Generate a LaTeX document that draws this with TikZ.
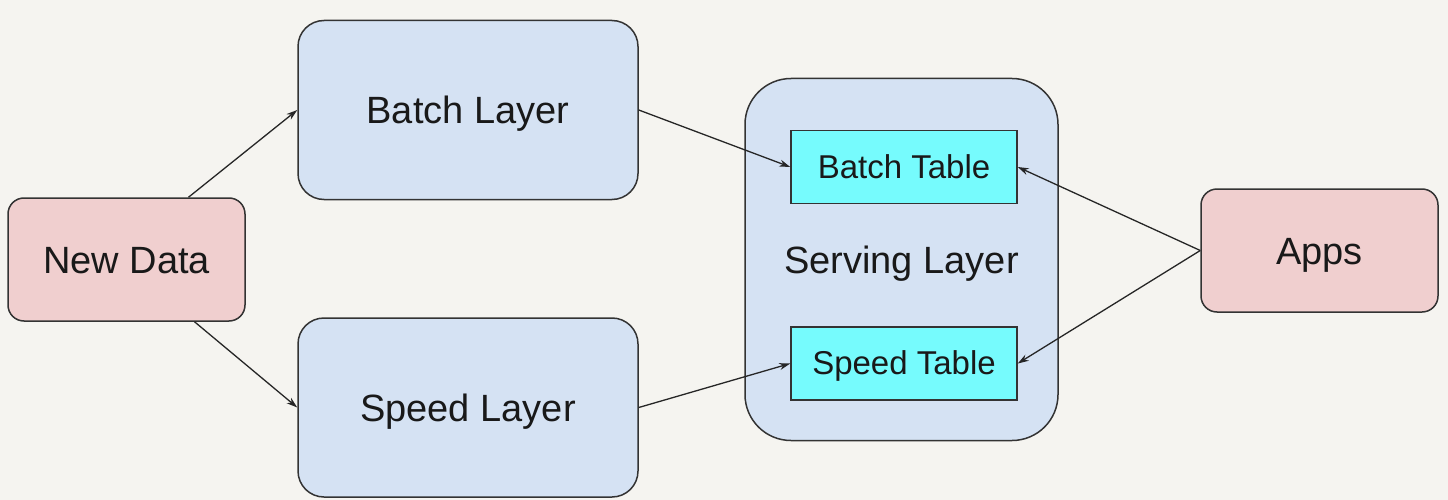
\documentclass[tikz,border=0pt]{standalone}
\usepackage{fontspec}
\setmainfont{Liberation Sans}
\usetikzlibrary{arrows.meta,calc}
\definecolor{bg}{HTML}{F5F4F0}
\definecolor{pinkfill}{HTML}{F0CFCF}
\definecolor{bluefill}{HTML}{D5E2F3}
\definecolor{cyanfill}{HTML}{76FBFD}
\definecolor{edge}{HTML}{333333}
\begin{document}
\begin{tikzpicture}[x=1pt,y=-1pt,
  box/.style={draw=edge,line width=1.5pt,inner sep=0pt,align=center,
    font=\fontsize{38}{42}\selectfont,text=black!90,text height=28pt,text depth=1pt},
  pinkbox/.style={box,fill=pinkfill,rounded corners=16pt,minimum width=237pt,minimum height=123pt},
  layerbox/.style={box,fill=bluefill,rounded corners=26pt,minimum width=340pt,minimum height=179pt},
  servebox/.style={box,fill=bluefill,rounded corners=46pt,minimum width=313pt,minimum height=362pt},
  tablebox/.style={box,fill=cyanfill,minimum width=226pt,minimum height=73pt,
    font=\fontsize{33}{36}\selectfont,text height=23pt,text depth=1pt},
  conn/.style={draw=black!85,line width=1.3pt,-{Stealth[length=11pt,width=7pt]}}]
\fill[bg] (0,0) rectangle (1448,500);
\useasboundingbox (0,0) rectangle (1448,500);
\node[pinkbox] (nd) at (126.5,259.5) {New Data};
\node[layerbox] (bl) at (468,110) {Batch Layer};
\node[layerbox] (sl) at (468,407.5) {Speed Layer};
\node[servebox] (sv) at (901.5,259.5) {Serving Layer};
\node[tablebox] (bt) at (904,167) {Batch Table};
\node[tablebox] (st) at (904,363.5) {Speed Table};
\node[pinkbox] (ap) at (1319.5,250.5) {Apps};
\draw[conn] ($(nd.north)+(62,0)$) -- (bl.west);
\draw[conn] ($(nd.south)+(68,0)$) -- (sl.west);
\draw[conn] (bl.east) -- (bt.west);
\draw[conn] (sl.east) -- (st.west);
\draw[conn] (ap.west) -- (bt.east);
\draw[conn] (ap.west) -- (st.east);
\end{tikzpicture}
\end{document}
